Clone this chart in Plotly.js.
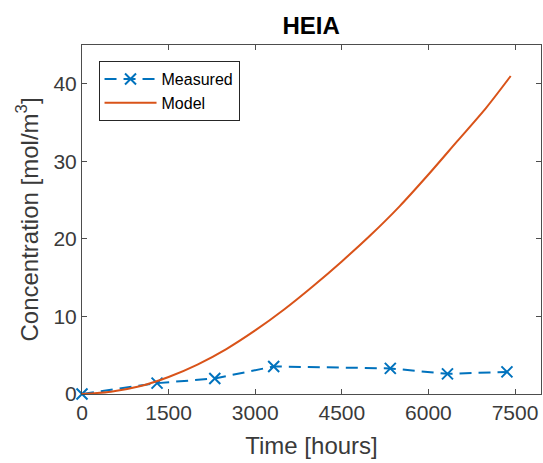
<!DOCTYPE html>
<html>
<head>
<meta charset="utf-8">
<script src="https://cdn.plot.ly/plotly-3.0.1.min.js"></script>
<style>html,body{margin:0;padding:0;background:#fff;}#chart{width:543px;height:463px;}</style>
</head>
<body>
<div id="chart"></div>
<script>
// Measured data
var measuredTime = [0, 1300, 2300, 3320, 5340, 6330, 7360];
var measuredConc = [0, 1.4, 2.0, 3.55, 3.3, 2.6, 2.85];
// Model curve
var modelTime = [0, 500, 1000, 1500, 2000, 2500, 3000, 3500, 4000, 4500, 5000, 5500, 6000, 6500, 7000, 7425];
var modelConc = [0, 0.3, 1.0, 2.2, 3.8, 5.8, 8.2, 10.9, 13.9, 17.1, 20.5, 24.2, 28.3, 32.6, 36.9, 41.0];
var xTicks = [0, 1500, 3000, 4500, 6000, 7500];
var yTicks = [0, 10, 20, 30, 40];

var fontFam = '"Liberation Sans", Arial, Helvetica, sans-serif';
var axisCol = '#4d4d4d';
var textCol = '#3a3a3a';

var traces = [
  {
    x: measuredTime, y: measuredConc, name: 'Measured',
    mode: 'lines+markers', type: 'scatter',
    line: {color: '#0072BD', width: 2, dash: '12px,7px'},
    marker: {symbol: 'x-thin', size: 11, line: {color: '#0072BD', width: 2}, color: '#0072BD'},
    cliponaxis: false
  },
  {
    x: modelTime, y: modelConc, name: 'Model',
    mode: 'lines', type: 'scatter',
    line: {color: '#D95319', width: 2, shape: 'spline', smoothing: 0.8}
  }
];

var layout = {
  width: 543, height: 463,
  margin: {l: 82, r: 2, t: 45, b: 69},
  paper_bgcolor: '#fff', plot_bgcolor: '#fff',
  font: {family: fontFam, color: textCol},
  title: {text: '<b>HEIA</b>', font: {size: 24, color: '#000', family: fontFam}, x: 0.573, xanchor: 'center', y: 0.945, yanchor: 'middle'},
  showlegend: true,
  legend: {
    x: 0.036, y: 0.954, xanchor: 'left', yanchor: 'top',
    bgcolor: '#fff', bordercolor: '#262626', borderwidth: 1,
    font: {size: 16, color: '#000', family: fontFam},
    tracegroupgap: 0, itemwidth: 52
  },
  xaxis: {
    range: [0, 7950], tickvals: xTicks, ticktext: xTicks.map(String),
    ticks: 'inside', ticklen: 5, tickcolor: axisCol, tickwidth: 1,
    showline: true, linecolor: axisCol, linewidth: 1, mirror: 'ticks',
    showgrid: false, zeroline: false,
    tickfont: {size: 21, color: textCol},
    title: {text: 'Time [hours]', font: {size: 24, color: textCol}, standoff: 13}
  },
  yaxis: {
    range: [0, 45], tickvals: yTicks, ticktext: yTicks.map(String),
    ticks: 'inside', ticklen: 5, tickcolor: axisCol, tickwidth: 1,
    showline: true, linecolor: axisCol, linewidth: 1, mirror: 'ticks',
    showgrid: false, zeroline: false,
    tickfont: {size: 21, color: textCol},
    title: {text: 'Concentration [mol/m<sup>3</sup>]', font: {size: 24, color: textCol}, standoff: 8}
  }
};

Plotly.newPlot('chart', traces, layout, {displayModeBar: false, staticPlot: true});
</script>
</body>
</html>
